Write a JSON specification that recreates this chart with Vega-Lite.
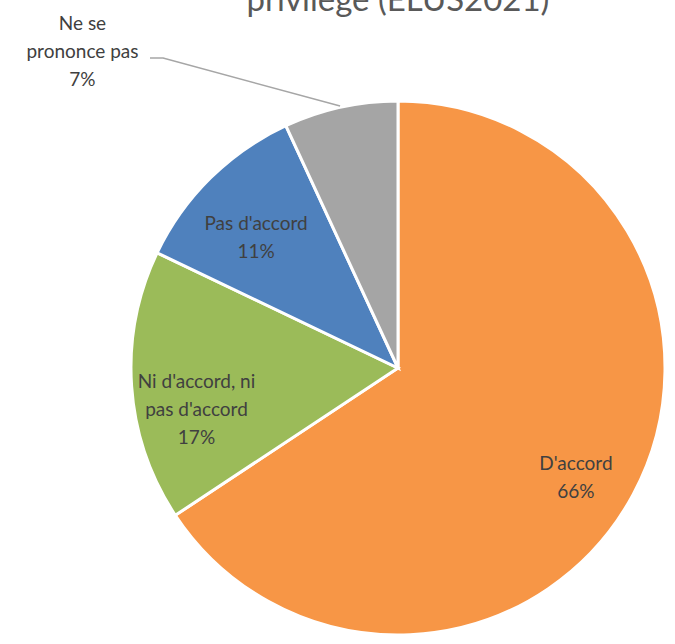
{
  "$schema": "https://vega.github.io/schema/vega-lite/v6.json",
  "width": 554,
  "height": 552,
  "autosize": {"type": "none"},
  "padding": {"left": 121, "top": 92, "right": 0, "bottom": 0},
  "background": "white",
  "title": {
    "text": "privilège (ELUS2021)",
    "font": "Lato",
    "fontSize": 33,
    "fontWeight": "normal",
    "color": "#595959",
    "anchor": "middle",
    "offset": 0,
    "dy": 3
  },
  "config": {"view": {"stroke": null}},
  "datasets": {
    "parts": [
      {"categorie": "D'accord", "valeur": 65.7, "ordre": 1, "etiquette": "D'accord\n66%"},
      {"categorie": "Ni d'accord, ni pas d'accord", "valeur": 16.4, "ordre": 2, "etiquette": "Ni d'accord, ni\npas d'accord\n17%"},
      {"categorie": "Pas d'accord", "valeur": 11.0, "ordre": 3, "etiquette": "Pas d'accord\n11%"},
      {"categorie": "Ne se prononce pas", "valeur": 6.9, "ordre": 4, "etiquette": "Ne se\nprononce pas\n7%"}
    ],
    "repere": [
      {"px": -0.929, "py": 1.161, "k": 1},
      {"px": -0.880, "py": 1.161, "k": 2},
      {"px": -0.217, "py": 0.981, "k": 3}
    ]
  },
  "layer": [
    {
      "data": {"name": "parts"},
      "mark": {"type": "arc", "outerRadius": 267, "stroke": "white", "strokeWidth": 3},
      "encoding": {
        "theta": {"field": "valeur", "type": "quantitative", "stack": true},
        "order": {"field": "ordre", "type": "quantitative"},
        "color": {
          "field": "categorie",
          "type": "nominal",
          "scale": {
            "domain": ["D'accord", "Ni d'accord, ni pas d'accord", "Pas d'accord", "Ne se prononce pas"],
            "range": ["#F79646", "#9BBB59", "#4F81BD", "#A5A5A5"]
          },
          "legend": null
        }
      }
    },
    {
      "data": {"name": "parts"},
      "mark": {"type": "text", "radius": 202, "font": "Lato", "fontSize": 19, "color": "#404040", "lineBreak": "\n", "lineHeight": 28, "baseline": "middle", "align": "center"},
      "encoding": {
        "theta": {"field": "valeur", "type": "quantitative", "stack": true},
        "order": {"field": "ordre", "type": "quantitative"},
        "text": {"condition": {"test": "datum.ordre < 4", "field": "etiquette"}, "value": ""}
      }
    },
    {
      "data": {"name": "parts"},
      "mark": {"type": "text", "radius": 300, "dx": -251, "dy": -51, "font": "Lato", "fontSize": 19, "color": "#404040", "lineBreak": "\n", "lineHeight": 28, "baseline": "middle", "align": "center"},
      "encoding": {
        "theta": {"field": "valeur", "type": "quantitative", "stack": true},
        "order": {"field": "ordre", "type": "quantitative"},
        "text": {"condition": {"test": "datum.ordre == 4", "field": "etiquette"}, "value": ""}
      }
    },
    {
      "data": {"name": "repere"},
      "mark": {"type": "line", "color": "#A6A6A6", "strokeWidth": 1.5, "clip": false},
      "encoding": {
        "x": {"field": "px", "type": "quantitative", "scale": {"domain": [-1.0375, 1.0375]}, "axis": null},
        "y": {"field": "py", "type": "quantitative", "scale": {"domain": [-1.0337, 1.0337]}, "axis": null},
        "order": {"field": "k", "type": "quantitative"}
      }
    }
  ]
}
